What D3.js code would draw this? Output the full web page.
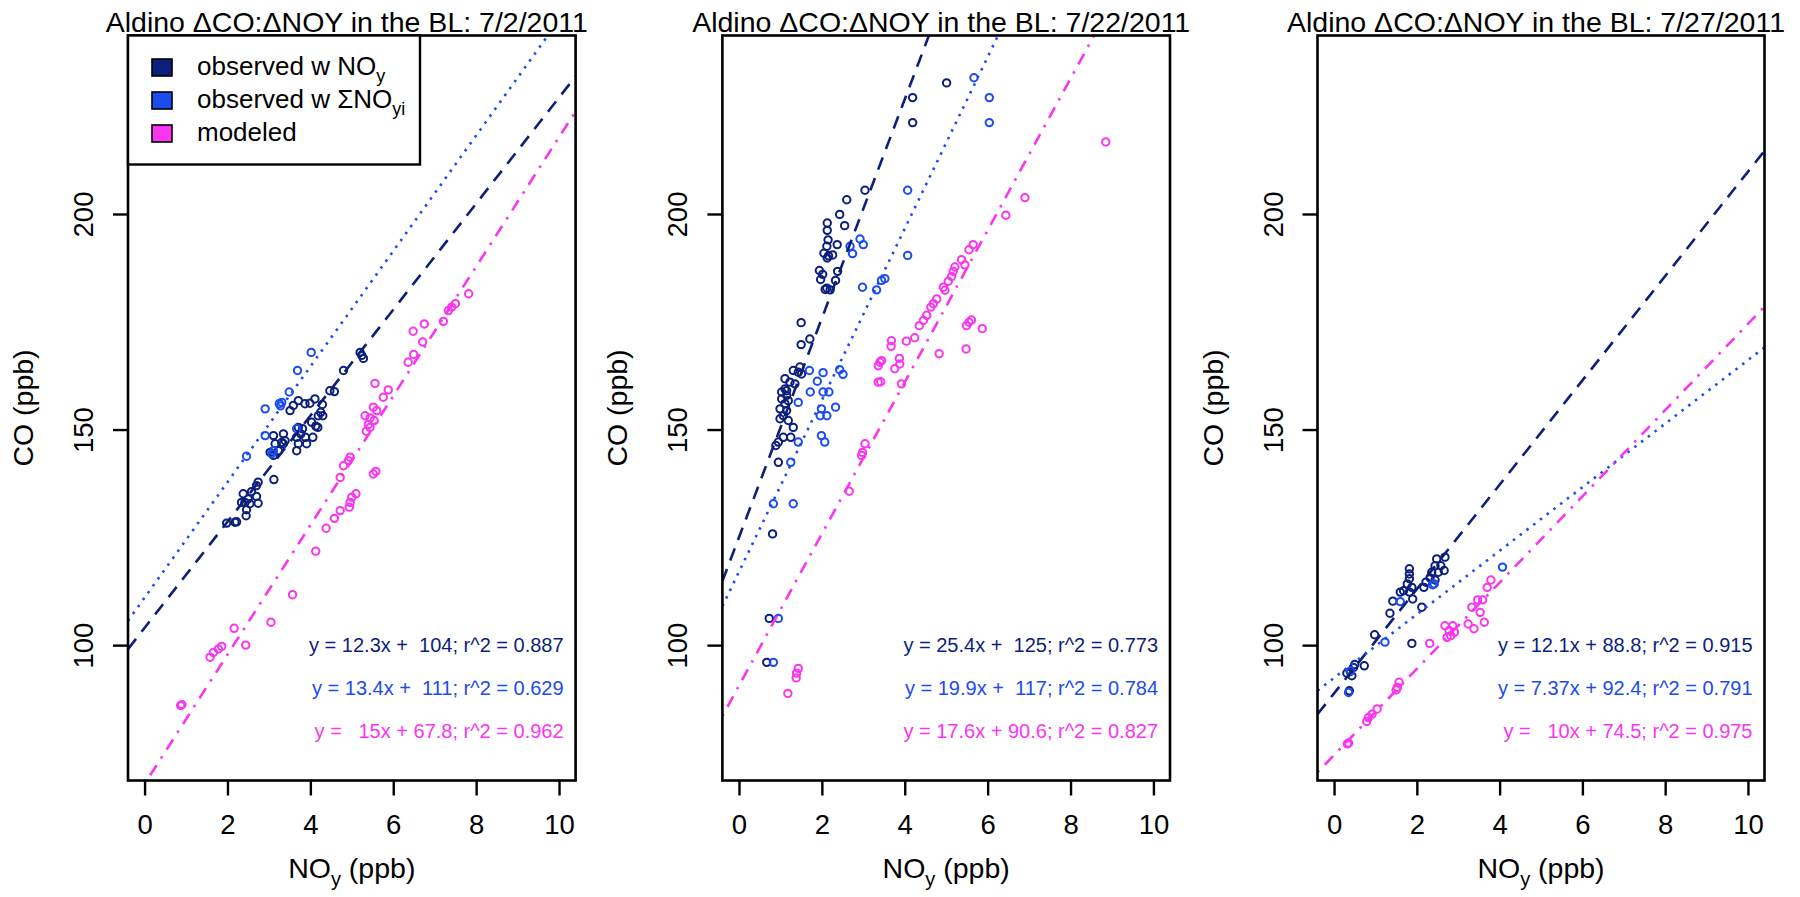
<!DOCTYPE html>
<html><head><meta charset="utf-8">
<script src="https://cdn.jsdelivr.net/npm/d3@7"></script>
<style>
body{margin:0;background:#fff}
text{font-family:"Liberation Sans",Arial,Helvetica,sans-serif;fill:#000}
</style>
</head><body>
<svg id="chart" width="1800" height="897"></svg>
<script>
// ---------------- data ----------------
const xlim = [0, 10];
const ylim = [75, 235];
const xTicks = [0, 2, 4, 6, 8, 10];
const yTicks = [100, 150, 200];
const titles = ["Aldino \u0394CO:\u0394NOY in the BL: 7/2/2011",
                "Aldino \u0394CO:\u0394NOY in the BL: 7/22/2011",
                "Aldino \u0394CO:\u0394NOY in the BL: 7/27/2011"];
const seriesNames = ["observed w NOy", "observed w \u03A3NOyi", "modeled"];

// regression fits [slope, intercept] per panel
const fitNavy = [[12.3, 104], [25.4, 125], [12.1, 88.8]];
const fitBlue = [[13.4, 111], [19.9, 117], [7.37, 92.4]];
const fitMag  = [[15, 67.8], [17.6, 90.6], [10, 74.5]];

const eqNavy = ["y = 12.3x +  104; r^2 = 0.887", "y = 25.4x +  125; r^2 = 0.773", "y = 12.1x + 88.8; r^2 = 0.915"];
const eqBlue = ["y = 13.4x +  111; r^2 = 0.629", "y = 19.9x +  117; r^2 = 0.784", "y = 7.37x + 92.4; r^2 = 0.791"];
const eqMag  = ["y =   15x + 67.8; r^2 = 0.962", "y = 17.6x + 90.6; r^2 = 0.827", "y =   10x + 74.5; r^2 = 0.975"];

// panel 1 (7/2/2011)
const p1Navy = [[5.20,167.9],[5.24,167.2],[5.28,166.5],[4.80,163.7],[4.47,159.0],[4.58,158.8],[4.11,157.1],[3.71,156.7],[3.51,154.4],[3.59,155.6],[3.87,156.0],[3.99,156.1],[4.29,155.8],[4.25,154.0],[4.30,153.2],[4.19,153.2],[4.03,151.7],[4.18,150.5],[4.13,150.8],[3.71,150.5],[3.81,150.2],[3.77,149.0],[3.88,148.2],[3.67,148.2],[3.71,146.7],[3.91,146.7],[4.06,148.2],[3.67,145.1],[3.35,149.0],[3.39,147.4],[3.35,146.7],[3.31,147.0],[3.11,148.6],[3.15,146.7],[3.03,144.7],[3.11,144.0],[3.23,145.1],[3.12,138.4],[2.74,137.8],[2.70,137.0],[2.38,135.1],[2.58,135.6],[2.50,133.9],[2.42,133.1],[2.54,132.8],[2.70,134.5],[2.74,132.9],[2.46,131.4],[2.45,130.0],[2.34,133.1],[2.18,128.5],[1.98,128.3],[2.22,128.6]];
const p1Blue = [[4.02,167.9],[3.69,163.7],[3.49,158.7],[2.91,154.8],[3.25,156.0],[3.31,156.3],[3.28,155.5],[2.91,148.6],[3.11,145.1],[2.46,143.8],[3.67,150.2],[3.07,144.4]];
const p1Mag = [[7.82,181.5],[7.50,179.2],[7.41,178.4],[7.33,177.6],[7.21,175.1],[6.75,174.5],[6.48,172.8],[6.71,170.3],[6.49,167.4],[6.36,165.6],[5.56,160.7],[5.88,159.2],[5.76,157.5],[5.52,155.2],[5.60,154.4],[5.32,153.2],[5.44,152.7],[5.40,151.2],[5.54,152.1],[5.35,149.6],[5.44,150.5],[4.96,143.6],[4.92,142.8],[4.80,141.6],[4.72,138.9],[5.52,139.7],[5.58,140.3],[5.10,135.1],[5.00,134.3],[4.96,133.1],[4.94,132.0],[4.72,131.2],[4.58,129.4],[4.38,127.1],[4.13,121.8],[3.57,111.7],[3.05,105.3],[2.16,103.9],[2.44,100.0],[1.86,99.7],[1.78,99.1],[1.66,98.3],[1.58,97.2],[0.87,86.0],[0.90,86.2]];

// panel 2 (7/22/2011)
const p2Navy = [[4.19,227.0],[4.19,221.2],[5.01,230.4],[3.04,205.5],[2.60,203.3],[2.43,199.9],[2.13,197.9],[2.13,196.2],[2.55,197.3],[2.15,194.0],[2.37,192.9],[2.12,192.5],[2.05,190.9],[2.16,190.3],[2.26,190.5],[2.13,189.8],[1.94,186.9],[2.02,186.0],[1.97,184.8],[2.38,186.7],[2.33,184.6],[2.12,182.8],[2.20,182.4],[2.08,182.5],[1.50,174.8],[1.71,171.0],[1.50,169.7],[1.47,164.5],[1.31,163.7],[1.43,163.3],[1.51,162.9],[1.11,161.8],[1.23,161.0],[1.35,160.6],[1.11,159.4],[1.15,159.0],[1.03,158.7],[1.15,157.9],[1.03,157.1],[1.19,156.7],[1.11,156.0],[0.99,154.8],[1.15,154.4],[1.07,153.2],[0.99,152.5],[1.19,152.1],[1.31,150.5],[1.07,148.2],[0.95,147.1],[0.89,146.3],[1.25,148.2],[0.95,142.4],[0.81,125.8],[0.73,106.2],[0.67,96.0]];
const p2Blue = [[6.04,227.0],[6.04,221.2],[5.67,231.6],[4.07,205.5],[4.07,190.4],[2.92,194.2],[3.00,192.9],[2.68,192.5],[2.74,190.8],[3.44,184.6],[3.52,185.0],[3.32,182.4],[2.98,183.0],[1.70,163.7],[2.03,163.2],[1.89,161.2],[1.72,158.7],[2.03,158.7],[2.17,158.7],[2.43,163.9],[2.51,162.8],[1.43,156.3],[2.33,155.2],[1.99,154.8],[1.96,153.2],[2.12,153.2],[1.99,148.6],[2.07,147.1],[1.43,147.1],[0.83,132.8],[1.31,132.8],[1.25,142.4],[0.95,106.2],[0.83,96.0]];
const p2Mag = [[8.85,216.7],[6.90,203.8],[6.44,199.7],[5.65,192.9],[5.55,191.7],[5.37,189.4],[5.45,188.2],[5.21,187.7],[5.17,186.7],[5.13,185.5],[5.05,184.4],[4.93,183.0],[4.97,182.3],[4.77,180.3],[4.69,179.2],[4.63,178.4],[4.53,176.5],[4.45,175.3],[4.35,174.1],[4.24,171.3],[4.04,170.5],[3.68,170.6],[3.67,169.3],[3.44,166.0],[3.40,165.6],[3.36,164.8],[3.87,166.5],[3.88,165.2],[3.76,164.1],[3.36,161.0],[3.42,161.1],[3.92,160.6],[4.83,167.6],[5.49,174.1],[5.55,174.9],[5.61,175.4],[5.48,168.7],[5.87,173.4],[3.04,146.7],[2.98,144.7],[2.96,144.0],[2.66,135.7],[1.43,94.6],[1.39,93.5],[1.38,92.4],[1.18,88.8]];

// panel 3 (7/27/2011)
const p3Navy = [[1.82,117.7],[1.82,116.5],[1.82,115.4],[1.77,114.2],[1.88,113.4],[1.68,112.6],[1.60,112.3],[1.82,112.3],[1.90,110.7],[1.42,110.2],[1.35,107.4],[2.12,108.8],[2.48,120.0],[2.68,120.4],[2.44,118.4],[2.58,118.4],[2.66,117.3],[2.36,116.9],[2.52,116.9],[2.32,115.6],[2.44,115.1],[2.22,114.6],[2.17,113.4],[0.98,102.4],[1.88,100.4],[0.73,95.2],[0.47,94.8],[0.39,93.9],[0.31,93.5],[0.43,92.9],[0.50,95.5],[0.37,89.4]];
const p3Blue = [[2.42,114.2],[2.38,114.0],[1.60,110.1],[1.23,100.7],[4.07,118.1],[0.35,89.0],[0.40,94.0]];
const p3Mag = [[3.79,115.1],[3.70,113.4],[3.59,110.5],[3.47,110.5],[3.33,108.8],[3.63,105.3],[3.53,107.6],[3.38,103.8],[3.24,104.9],[2.68,104.5],[2.78,103.4],[2.87,104.5],[2.73,101.8],[2.91,103.0],[2.82,102.2],[2.31,100.4],[1.57,91.4],[1.53,90.2],[1.50,89.6],[1.04,85.2],[0.92,84.0],[0.83,83.2],[0.79,82.3],[0.32,77.1],[0.35,77.3]];

// ---------------- styling / layout ----------------
const NAVY = "#0c1f7c", BLUE = "#1a4cf0", MAG = "#f935ef";
const panelBoxes = [{l:128, r:575.6}, {l:722.4, r:1170}, {l:1317.5, r:1764.5}];
const TOP = 35.5, BOT = 780.5;

const panels = [
  {title: titles[0], navy: p1Navy, blue: p1Blue, mag: p1Mag},
  {title: titles[1], navy: p2Navy, blue: p2Blue, mag: p2Mag},
  {title: titles[2], navy: p3Navy, blue: p3Blue, mag: p3Mag}
];

const svg = d3.select("#chart");
const ext = (lim) => { const e = 0.04 * (lim[1] - lim[0]); return [lim[0] - e, lim[1] + e]; };

panels.forEach((p, i) => {
  const box = panelBoxes[i];
  const x = d3.scaleLinear().domain(ext(xlim)).range([box.l, box.r]);
  const y = d3.scaleLinear().domain(ext(ylim)).range([BOT, TOP]);
  const g = svg.append("g");

  const clipId = "clip" + i;
  svg.append("defs").append("clipPath").attr("id", clipId)
    .append("rect").attr("x", box.l).attr("y", TOP).attr("width", box.r - box.l).attr("height", BOT - TOP);

  // points
  const pts = g.append("g");
  [[p.navy, NAVY], [p.blue, BLUE], [p.mag, MAG]].forEach(([data, col]) => {
    pts.append("g").selectAll("circle").data(data).join("circle")
      .attr("cx", d => x(d[0])).attr("cy", d => y(d[1])).attr("r", 3.7)
      .attr("fill", "none").attr("stroke", col).attr("stroke-width", 2);
  });

  // regression lines
  const lineG = g.append("g").attr("clip-path", `url(#${clipId})`);
  const xd = x.domain();
  [[fitNavy[i], NAVY, "13,9"], [fitBlue[i], BLUE, "2.5,6"], [fitMag[i], MAG, "2.5,8,12,8"]].forEach(([f, col, dash]) => {
    lineG.append("line")
      .attr("x1", x(xd[0])).attr("y1", y(f[0] * xd[0] + f[1]))
      .attr("x2", x(xd[1])).attr("y2", y(f[0] * xd[1] + f[1]))
      .attr("stroke", col).attr("stroke-width", 2.6).attr("stroke-dasharray", dash);
  });

  // box
  g.append("rect").attr("x", box.l).attr("y", TOP).attr("width", box.r - box.l).attr("height", BOT - TOP)
    .attr("fill", "none").attr("stroke", "#000").attr("stroke-width", 2.6);

  // x axis
  const xa = g.append("g").attr("transform", `translate(0,${BOT})`)
    .call(d3.axisBottom(x).tickValues(xTicks).tickSize(15).tickFormat(d3.format("d")));
  xa.select(".domain").remove();
  xa.selectAll(".tick line").attr("stroke", "#000").attr("stroke-width", 2.4);
  xa.selectAll(".tick text").attr("y", 53).attr("dy", 0).attr("font-size", 27.5)
    .style("font-family", '"Liberation Sans",Arial,sans-serif').attr("fill", "#000");

  // y axis
  const ya = g.append("g").attr("transform", `translate(${box.l},0)`)
    .call(d3.axisLeft(y).tickValues(yTicks).tickSize(15).tickFormat(d3.format("d")));
  ya.select(".domain").remove();
  ya.selectAll(".tick line").attr("stroke", "#000").attr("stroke-width", 2.4);
  ya.selectAll(".tick text").attr("transform", "rotate(-90)").attr("x", 0).attr("y", -35).attr("dy", 0)
    .attr("text-anchor", "middle").attr("font-size", 27.5)
    .style("font-family", '"Liberation Sans",Arial,sans-serif').attr("fill", "#000");

  // title
  g.append("text").attr("x", (box.l + box.r) / 2 - 5).attr("y", 31.5).attr("text-anchor", "middle")
    .attr("font-size", 28.5).text(p.title);

  // x label NOy (ppb)
  const xl = g.append("text").attr("x", (box.l + box.r) / 2).attr("y", 878).attr("text-anchor", "middle")
    .attr("font-size", 28.5);
  xl.append("tspan").text("NO");
  xl.append("tspan").attr("font-size", 20).attr("dy", 8).text("y");
  xl.append("tspan").attr("dy", -8).style("white-space", "pre").text(" (ppb)");

  // y label
  g.append("text").attr("transform", `translate(${box.l - 95},${(TOP + BOT) / 2}) rotate(-90)`)
    .attr("text-anchor", "middle").attr("font-size", 28.5).text("CO (ppb)");

  // equations
  const eqs = [[eqNavy[i], NAVY], [eqBlue[i], BLUE], [eqMag[i], MAG]];
  eqs.forEach(([t, col], k) => {
    g.append("text").attr("x", box.r - 12).attr("y", 652 + k * 42.8).attr("text-anchor", "end")
      .attr("font-size", 20).attr("fill", col).style("fill", col).style("white-space", "pre").text(t);
  });

  // legend in first panel
  if (i === 0) {
    const lg = g.append("g");
    lg.append("rect").attr("x", box.l).attr("y", TOP).attr("width", 292).attr("height", 129)
      .attr("fill", "#fff").attr("stroke", "#000").attr("stroke-width", 2.4);
    const cols = [NAVY, BLUE, MAG];
    const rowY = [67.5, 100.5, 133.5];
    seriesNames.forEach((name, k) => {
      lg.append("rect").attr("x", 152).attr("y", rowY[k] - 8.5).attr("width", 20).attr("height", 17)
        .attr("fill", cols[k]).attr("stroke", "#000").attr("stroke-width", 1.6);
      const t = lg.append("text").attr("x", 197).attr("y", rowY[k] + 7).attr("font-size", 26);
      if (k === 0) {
        t.append("tspan").text("observed w NO");
        t.append("tspan").attr("font-size", 18).attr("dy", 7).text("y");
      } else if (k === 1) {
        t.append("tspan").text("observed w \u03A3NO");
        t.append("tspan").attr("font-size", 18).attr("dy", 7).text("yi");
      } else {
        t.text(name);
      }
    });
  }
});
</script>
</body></html>
